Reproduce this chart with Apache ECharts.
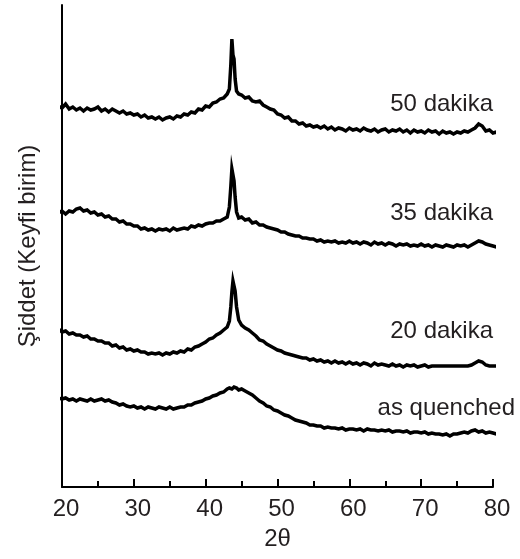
<!DOCTYPE html>
<html>
<head>
<meta charset="utf-8">
<script src="https://cdn.jsdelivr.net/npm/echarts@6/dist/echarts.min.js"></script>
<style>html,body{margin:0;padding:0;background:#fff}#c{width:520px;height:559px}</style>
</head>
<body>
<div id="c"></div>
<script>
const twoTheta = [
  19.5,20,20.5,21,21.5,22,22.5,23,23.5,24,
  24.5,25,25.5,26,26.5,27,27.5,28,28.5,29,
  29.5,30,30.5,31,31.5,32,32.5,33,33.5,34,
  34.5,35,35.5,36,36.5,37,37.5,38,38.5,39,
  39.5,40,40.5,41,41.5,42,42.5,43,
  43.3,43.5,43.65,43.8,43.95,44.1,44.3,44.6,
  45,45.5,46,46.5,47,47.5,48,48.5,49,49.5,
  50,50.5,51,51.5,52,52.5,53,53.5,54,54.5,
  55,55.5,56,56.5,57,57.5,58,58.5,59,59.5,
  60,60.5,61,61.5,62,62.5,63,63.5,64,64.5,
  65,65.5,66,66.5,67,67.5,68,68.5,69,69.5,
  70,70.5,71,71.5,72,72.5,73,73.5,74,74.5,
  75,75.5,76,76.5,77,77.5,78,78.5,79,79.5,
  80,80.5,81
];
const seriesNames = ['50 dakika', '35 dakika', '20 dakika', 'as quenched'];
const dakika50 = [
  381,379,383,378,380,377,379,376,379,377,
  378,380,376,378,375,378,376,374,376,373,
  374,372,373,370,372,369,370,368,370,367,
  369,370,368,371,370,373,372,375,374,378,
  377,381,380,384,385,388,389,393,
  398,422,448,432,428,408,396,393,
  392,389,390,386,385,386,382,380,378,377,
  373,372,369,370,366,366,363,364,361,362,
  360,361,359,361,358,360,357,359,358,356,
  359,357,358,356,359,357,356,358,355,357,
  358,355,357,356,358,355,357,354,357,355,
  356,354,357,355,356,353,356,354,355,353,
  355,354,356,355,357,359,363,361,356,357,
  354,355,353
];
const dakika35 = [
  274,276,273,276,275,278,279,276,277,274,
  275,272,273,270,271,268,268,265,266,263,
  263,261,261,258,259,257,258,256,258,257,
  258,256,259,257,258,259,258,261,260,262,
  261,263,264,264,266,266,268,270,
  280,300,318,320,306,290,275,269,
  270,267,268,264,265,262,262,260,259,258,
  257,255,255,253,252,251,251,249,249,248,
  248,246,247,245,246,245,246,244,245,244,
  246,244,245,243,245,244,242,245,243,244,
  242,244,243,241,243,242,243,241,242,241,
  243,241,242,240,242,241,240,242,241,240,
  242,241,242,240,242,244,246,245,243,242,
  241,240,238
];
const dakika20 = [
  158,155,156,153,154,152,152,150,151,148,
  148,146,146,144,144,141,142,139,140,137,
  138,136,137,135,135,133,134,133,134,132,
  134,133,135,134,136,135,138,137,140,141,
  143,145,148,149,152,154,157,160,
  166,180,195,206,208,196,180,167,
  162,159,157,154,151,147,146,143,141,139,
  137,136,134,133,132,131,130,129,129,127,
  128,126,127,125,126,124,126,124,125,123,
  125,123,124,122,124,123,121,124,122,123,
  122,121,123,121,122,120,122,121,122,120,
  121,122,120,121,121,121,121,121,121,121,
  121,121,121,121,122,124,126,125,122,121,
  121,121,121
];
const asQuenched = [
  89,88,89,87,88,86,88,87,86,88,
  86,87,88,86,87,85,84,82,83,81,
  80,81,79,80,78,80,79,78,80,79,
  78,80,78,79,80,80,82,82,84,85,
  86,88,89,91,92,94,95,98,
  99,100,98,99,100,98,99,97,
  98,96,94,92,89,86,84,81,80,77,
  76,74,72,71,69,67,66,65,64,62,
  62,61,61,59,60,59,59,58,59,57,
  58,58,57,58,56,58,57,57,56,57,
  56,57,55,56,56,55,56,54,55,55,
  54,55,53,54,53,53,52,53,51,53,
  53,54,55,54,56,57,55,56,54,55,
  54,53,54
];
const xTicks = [20, 30, 40, 50, 60, 70, 80];

const allSeries = [dakika50, dakika35, dakika20, asQuenched];
const chart = echarts.init(document.getElementById('c'));
const fontFam = '"Liberation Sans", Arial, Helvetica, sans-serif';
const textColor = '#231f20';

const labelPos = [
  {x: 493, y: 104.5},
  {x: 493, y: 213.5},
  {x: 493, y: 331.5},
  {x: 515, y: 408.5}
];

chart.setOption({
  animation: false,
  backgroundColor: '#fff',
  grid: {left: 62, right: 27, top: 5, bottom: 72, containLabel: false},
  xAxis: {
    type: 'value',
    min: xTicks[0], max: xTicks[xTicks.length - 1], interval: 10,
    name: '2θ', nameLocation: 'middle', nameGap: 40,
    nameTextStyle: {fontSize: 24, color: textColor, fontFamily: fontFam},
    axisLine: {show: true, lineStyle: {color: '#000', width: 2}},
    axisTick: {show: true, inside: true, length: 8, lineStyle: {color: '#000', width: 2}},
    minorTick: {show: true, splitNumber: 2, length: 6, lineStyle: {color: '#000', width: 2}},
    axisLabel: {fontSize: 24, color: textColor, fontFamily: fontFam, margin: 10, padding: [0,0,0,8]},
    splitLine: {show: false}
  },
  yAxis: {
    type: 'value', min: 0, max: 482,
    name: 'Şiddet (Keyfi birim)', nameLocation: 'middle', nameGap: 22,
    nameTextStyle: {fontSize: 24, color: textColor, fontFamily: fontFam},
    axisLine: {show: true, lineStyle: {color: '#000', width: 2}},
    axisTick: {show: false}, axisLabel: {show: false}, splitLine: {show: false}
  },
  series: allSeries.map((vals, i) => ({
    name: seriesNames[i],
    type: 'line',
    data: twoTheta.map((x, j) => [x, vals[j]]),
    showSymbol: false, symbol: 'none',
    clip: false,
    lineStyle: {color: '#000', width: 3.5, join: 'miter'}
  })),
  graphic: seriesNames.map((n, i) => ({
    type: 'text',
    x: labelPos[i].x, y: labelPos[i].y,
    style: {text: n, fill: textColor, font: '24px ' + fontFam, textAlign: 'right', textVerticalAlign: 'middle'}
  }))
});
</script>
</body>
</html>
